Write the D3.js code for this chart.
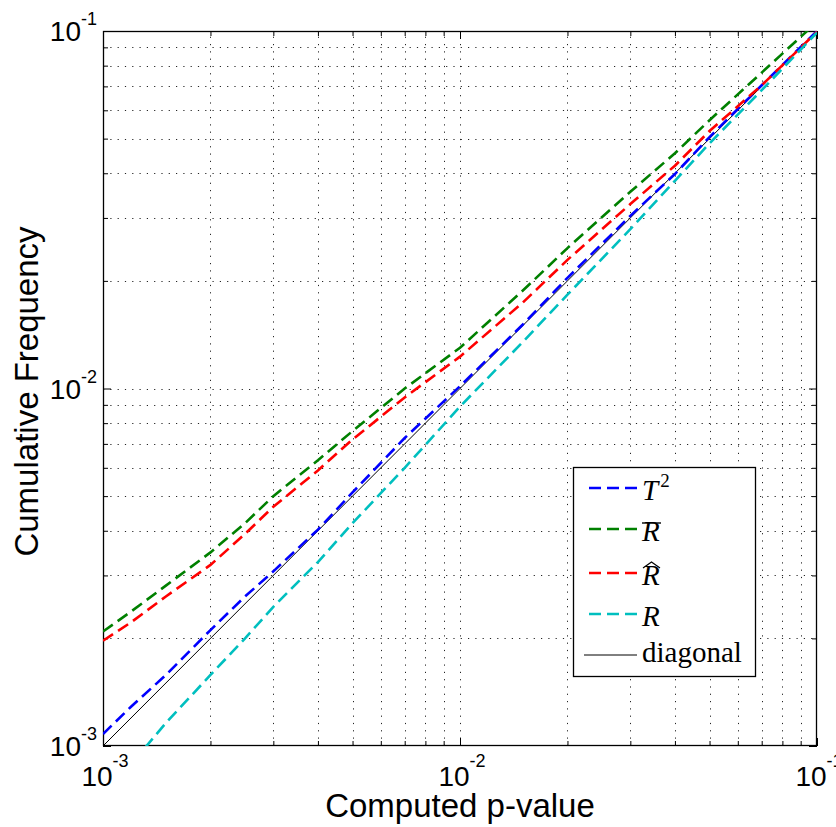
<!DOCTYPE html>
<html>
<head>
<meta charset="utf-8">
<script src="https://cdn.jsdelivr.net/npm/d3@7"></script>
<style>
  html, body { margin: 0; padding: 0; background: #fff; }
  svg { display: block; }
</style>
</head>
<body>
<svg id="chart" width="836" height="827"></svg>
<script>
// ---------- data ----------
const pValues    = [0.001, 0.0012, 0.0015, 0.002, 0.0025, 0.003, 0.004, 0.005, 0.007, 0.01, 0.015, 0.02, 0.03, 0.04, 0.05, 0.07, 0.1];
const seriesT2   = [0.00108, 0.00129, 0.00158, 0.00211, 0.00262, 0.00308, 0.00403, 0.00512, 0.00727, 0.01015, 0.0151, 0.0204, 0.0304, 0.0398, 0.0505, 0.0705, 0.1];
const seriesRbar = [0.00209, 0.00238, 0.00281, 0.00348, 0.00420, 0.00500, 0.0063, 0.0076, 0.0100, 0.0130, 0.0188, 0.0247, 0.0355, 0.0455, 0.0563, 0.0765, 0.106];
const seriesRhat = [0.00197, 0.00222, 0.00262, 0.00321, 0.00392, 0.00467, 0.0059, 0.0072, 0.00944, 0.01228, 0.0174, 0.0229, 0.0328, 0.0420, 0.0525, 0.0705, 0.0995];
const seriesRPV  = [0.00080, 0.00089, 0.00116, 0.00158, 0.0020, 0.00245, 0.00327, 0.0042, 0.0060, 0.0089, 0.0135, 0.0183, 0.0279, 0.0381, 0.0485, 0.0683, 0.099];
const diagonal   = [0.001, 0.1];
const majorTicks = [0.001, 0.01, 0.1];
const tickBase   = "10";
const tickExps   = ["-3", "-2", "-1"];
const xLabel = "Computed p-value";
const yLabel = "Cumulative Frequency";

const seriesList = [
  { key: "T2",   values: seriesT2,   color: "#0000ff" },
  { key: "Rbar", values: seriesRbar, color: "#008000" },
  { key: "Rhat", values: seriesRhat, color: "#ff0000" },
  { key: "R",    values: seriesRPV,  color: "#00bfbf" }
];

// ---------- layout ----------
const L = 103, R = 817, T = 31, B = 746;
const svg = d3.select("#chart");
const x = d3.scaleLog().domain([1e-3, 1e-1]).range([L, R]);
const y = d3.scaleLog().domain([1e-3, 1e-1]).range([B, T]);

const allTicks = [];
[1e-3, 1e-2].forEach(d => { for (let k = 1; k <= 9; k++) allTicks.push(+(k * d).toPrecision(3)); });
allTicks.push(0.1);
const minorTicks = allTicks.filter(v => !majorTicks.includes(v));
const inner = allTicks.filter(v => v > 1e-3 && v < 1e-1);

svg.append("rect").attr("width", 836).attr("height", 827).attr("fill", "#fff");

// grid
const grid = svg.append("g").attr("stroke", "#000").attr("stroke-width", 1).attr("stroke-dasharray", "1.2,6.1").attr("opacity", 0.85);
grid.selectAll("line.gx").data(inner).enter().append("line")
  .attr("x1", d => Math.round(x(d)) + 0.5).attr("x2", d => Math.round(x(d)) + 0.5)
  .attr("y1", B).attr("y2", T);
grid.selectAll("line.gy").data(inner).enter().append("line")
  .attr("y1", d => Math.round(y(d)) + 0.5).attr("y2", d => Math.round(y(d)) + 0.5)
  .attr("x1", L).attr("x2", R);

// ticks (inward, all four sides)
function addAxis(gen, tr, vals, size) {
  const g = svg.append("g").attr("transform", tr)
    .call(gen.tickValues(vals).tickSize(size).tickFormat(""));
  g.select(".domain").remove();
  g.selectAll("line").attr("stroke", "#000").attr("stroke-width", 1);
}
addAxis(d3.axisBottom(x), `translate(0,${B})`, majorTicks, -8);
addAxis(d3.axisBottom(x), `translate(0,${B})`, minorTicks, -5);
addAxis(d3.axisTop(x), `translate(0,${T})`, majorTicks, -8);
addAxis(d3.axisTop(x), `translate(0,${T})`, minorTicks, -5);
addAxis(d3.axisLeft(y), `translate(${L},0)`, majorTicks, -8);
addAxis(d3.axisLeft(y), `translate(${L},0)`, minorTicks, -5);
addAxis(d3.axisRight(y), `translate(${R},0)`, majorTicks, -8);
addAxis(d3.axisRight(y), `translate(${R},0)`, minorTicks, -5);

// frame
svg.append("rect").attr("x", L + 0.5).attr("y", T + 0.5).attr("width", R - L - 1).attr("height", B - T - 1)
  .attr("fill", "none").attr("stroke", "#000").attr("stroke-width", 1.3);

// tick labels
const font = "'Liberation Sans', Arial, Helvetica, sans-serif";
majorTicks.forEach((v, i) => {
  const tx = svg.append("text").attr("x", x(v) + 2).attr("y", 786)
    .attr("text-anchor", "middle").attr("font-family", font).attr("font-size", 28).attr("fill", "#000");
  tx.append("tspan").text(tickBase);
  tx.append("tspan").attr("dy", -19).attr("font-size", 18).text(tickExps[i]);
  const ty = svg.append("text").attr("x", 97).attr("y", y(v) + 10)
    .attr("text-anchor", "end").attr("font-family", font).attr("font-size", 28).attr("fill", "#000");
  ty.append("tspan").text(tickBase);
  ty.append("tspan").attr("dy", -16).attr("font-size", 18).text(tickExps[i]);
});

// axis labels
svg.append("text").attr("x", (L + R) / 2).attr("y", 817).attr("text-anchor", "middle")
  .attr("font-family", font).attr("font-size", 33).attr("fill", "#000").text(xLabel);
svg.append("text").attr("transform", `translate(38,${(T + B) / 2 + 3}) rotate(-90)`).attr("text-anchor", "middle")
  .attr("font-family", font).attr("font-size", 33).attr("fill", "#000").text(yLabel);

// clip
svg.append("clipPath").attr("id", "plotclip").append("rect")
  .attr("x", L).attr("y", T).attr("width", R - L).attr("height", B - T);
const plot = svg.append("g").attr("clip-path", "url(#plotclip)");

const line = d3.line().x(d => x(d[0])).y(d => y(d[1]));
plot.append("path").datum(diagonal.map(v => [v, v])).attr("d", line)
  .attr("fill", "none").attr("stroke", "#000").attr("stroke-width", 1);
seriesList.forEach(s => {
  plot.append("path").datum(pValues.map((p, i) => [p, s.values[i]])).attr("d", line)
    .attr("fill", "none").attr("stroke", s.color).attr("stroke-width", 2.6)
    .attr("stroke-dasharray", "12,6");
});

// legend
const lg = svg.append("g");
lg.append("rect").attr("x", 573.5).attr("y", 467.5).attr("width", 182).attr("height", 209)
  .attr("fill", "#fff").attr("stroke", "#000").attr("stroke-width", 1.3);
const rowsY = [488, 529, 573, 614, 655];
const serif = "'Liberation Serif', 'Times New Roman', serif";
seriesList.forEach((s, i) => {
  lg.append("line").attr("x1", 589).attr("x2", 637).attr("y1", rowsY[i]).attr("y2", rowsY[i])
    .attr("stroke", s.color).attr("stroke-width", 2.6).attr("stroke-dasharray", "12,6");
});
lg.append("line").attr("x1", 584).attr("x2", 637).attr("y1", rowsY[4]).attr("y2", rowsY[4])
  .attr("stroke", "#000").attr("stroke-width", 1);

function labelText(i, letter) {
  return lg.append("text").attr("x", 642).attr("y", rowsY[i] + 12)
    .attr("font-family", serif).attr("font-size", 29).attr("font-style", "italic").attr("fill", "#000").text(letter);
}
// T^2
const t2 = labelText(0, "T");
t2.append("tspan").attr("font-style", "normal").attr("font-size", 19).attr("dy", -13).attr("dx", 2).text("2");
// R bar
const rb = labelText(1, "R");
let bb = rb.node().getBBox();
lg.append("line").attr("x1", bb.x + 1).attr("x2", bb.x + bb.width + 1).attr("y1", rowsY[1] - 6).attr("y2", rowsY[1] - 6)
  .attr("stroke", "#000").attr("stroke-width", 1.4);
// R hat
const rh = labelText(2, "R");
bb = rh.node().getBBox();
lg.append("path").attr("d", `M${bb.x + 2},${rowsY[2] - 5} L${bb.x + bb.width / 2 + 1},${rowsY[2] - 11} L${bb.x + bb.width},${rowsY[2] - 5}`)
  .attr("fill", "none").attr("stroke", "#000").attr("stroke-width", 1.2);
// R
labelText(3, "R");
// diagonal
lg.append("text").attr("x", 642).attr("y", rowsY[4] + 7).attr("font-family", serif).attr("font-size", 29)
  .attr("fill", "#000").text("diagonal");
</script>
</body>
</html>
